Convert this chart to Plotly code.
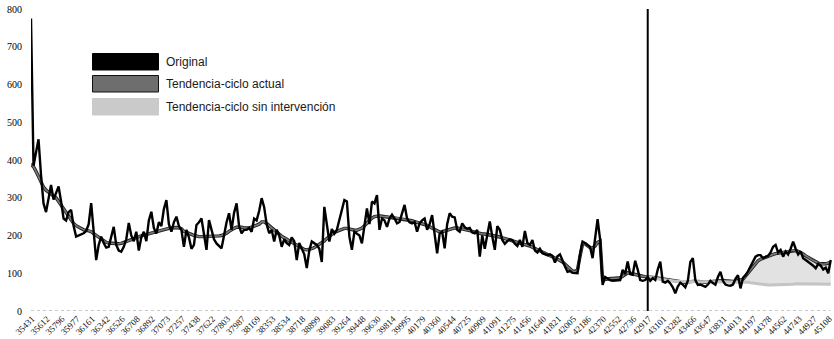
import plotly.graph_objects as go

# Monthly series starting Jan 1997 (index 0) to Aug 2023 (index 319)
original = [
    775, 385, 420, 455, 360, 285, 262, 300, 334, 295, 315, 330, 290, 245, 240, 262, 268, 225, 197, 200,
    205, 206, 212, 230, 286, 220, 135, 175, 197, 180, 168, 170, 200, 223, 175, 160, 157, 170, 190, 233,
    200, 185, 210, 160, 195, 210, 185, 240, 263, 220, 205, 235, 225, 270, 294, 230, 210, 235, 250, 225,
    215, 170, 215, 195, 165, 175, 228, 235, 245, 200, 162, 241, 215, 190, 179, 172, 166, 200, 235, 259,
    215, 260, 285, 225, 206, 215, 215, 220, 210, 245, 240, 265, 299, 275, 230, 206, 215, 184, 215, 200,
    170, 190, 180, 175, 195, 185, 135, 180, 165, 150, 114, 160, 184, 180, 175, 165, 130, 276, 230, 184,
    217, 205, 215, 240, 263, 294, 290, 197, 162, 210, 205, 200, 179, 230, 272, 230, 290, 285, 307, 215,
    245, 240, 223, 245, 255, 245, 232, 236, 260, 281, 245, 235, 232, 236, 210, 232, 240, 245, 215, 230,
    254, 210, 153, 205, 210, 166, 230, 259, 250, 248, 215, 210, 232, 222, 218, 220, 208, 206, 215, 144,
    200, 165, 200, 237, 197, 162, 225, 215, 188, 178, 185, 190, 188, 178, 172, 188, 170, 212, 180, 175,
    188, 160, 155, 165, 153, 150, 148, 150, 146, 128, 145, 150, 132, 118, 104, 106, 101, 100, 100, 150,
    184, 180, 175, 170, 140, 185, 243, 190, 69, 90, 85, 82, 80, 80, 80, 82, 109, 98, 131, 98,
    96, 133, 110, 82, 80, 82, 90, 80, 87, 82, 110, 131, 78, 75, 80, 73, 63, 47, 65, 75,
    70, 63, 80, 130, 140, 82, 69, 70, 67, 64, 70, 80, 74, 70, 90, 104, 80, 70, 68, 67,
    70, 85, 95, 60, 88, 95, 105, 117, 130, 144, 148, 148, 140, 142, 146, 155, 170, 175, 155, 162,
    144, 158, 150, 165, 184, 165, 150, 158, 140, 135, 131, 125, 120, 113, 125, 120, 110, 115, 100, 135,
]

trend = [
    390, 382, 370, 355, 340, 328, 320, 314, 310, 305, 300, 290, 280, 270, 260, 250, 240, 232, 226, 222,
    218, 215, 214, 213, 210, 205, 200, 195, 190, 185, 182, 180, 179, 178, 178, 178, 179, 181, 183, 186,
    189, 192, 195, 197, 199, 201, 203, 205, 207, 209, 211, 213, 214, 216, 218, 219, 220, 221, 221, 220,
    218, 211, 209, 206, 203, 200, 198, 197, 197, 197, 197, 197, 197, 197, 198, 199, 200, 202, 206, 211,
    216, 219, 222, 223, 222, 220, 219, 220, 222, 224, 226, 230, 236, 236, 232, 226, 220, 213, 207, 202,
    198, 194, 190, 186, 182, 178, 174, 170, 166, 163, 162, 163, 165, 168, 172, 176, 181, 186, 192, 198,
    204, 208, 211, 214, 217, 219, 219, 217, 215, 214, 214, 216, 220, 226, 233, 240, 246, 250, 252, 252,
    251, 250, 249, 248, 248, 248, 247, 246, 245, 244, 243, 241, 239, 237, 235, 234, 232, 230, 227, 223,
    219, 215, 211, 209, 210, 212, 215, 218, 219, 220, 220, 219, 218, 217, 215, 213, 211, 209, 207, 205,
    204, 204, 203, 202, 200, 198, 197, 196, 194, 192, 190, 188, 186, 184, 183, 182, 180, 178, 175, 172,
    169, 166, 162, 159, 155, 152, 149, 147, 144, 141, 138, 134, 130, 124, 117, 110, 106, 104, 110, 145,
    178, 178, 172, 168, 167, 172, 182, 185, 82, 84, 85, 86, 86, 87, 87, 88, 92, 98, 101, 100,
    98, 97, 95, 93, 92, 91, 91, 90, 89, 88, 87, 86, 85, 84, 83, 82, 80, 78, 77, 76,
    76, 76, 77, 78, 79, 79, 78, 77, 76, 76, 77, 78, 79, 80, 81, 82, 81, 80, 79, 78,
    78, 79, 80, 81, 84, 92, 100, 110, 119, 127, 133, 137, 140, 143, 146, 148, 150, 152, 153, 154,
    155, 157, 159, 160, 161, 160, 158, 155, 151, 146, 142, 138, 134, 130, 127, 125, 124, 125, 127, 129,
]

# Counterfactual trend (no intervention), from the intervention month onward
intervention_index = 246
counterfactual = [
    91, 90, 88, 86, 85, 84, 83, 82, 81, 80, 79, 79, 78, 78, 78, 77, 77, 77, 77, 77,
    77, 77, 77, 77, 77, 77, 77, 77, 78, 78, 78, 78, 78, 78, 78, 78, 78, 78, 77, 77,
    76, 75, 74, 73, 72, 71, 70, 70, 69, 69, 69, 69, 69, 69, 69, 70, 70, 71, 71, 72,
    72, 72, 72, 72, 72, 71, 71, 71, 71, 71, 71, 71, 71, 71,
]

tick_labels = [
    "35431", "35612", "35796", "35977", "36161", "36342", "36526", "36708", "36892", "37073",
    "37257", "37438", "37622", "37803", "37987", "38169", "38353", "38534", "38718", "38899",
    "39083", "39264", "39448", "39630", "39814", "39995", "40179", "40360", "40544", "40725",
    "40909", "41091", "41275", "41456", "41640", "41821", "42005", "42186", "42370", "42552",
    "42736", "42917", "43101", "43282", "43466", "43647", "43831", "44013", "44197", "44378",
    "44562", "44743", "44927", "45108",
]

legend_names = ["Original", "Tendencia-ciclo actual", "Tendencia-ciclo sin intervención"]

n = len(original)
x_all = list(range(n))
x_cf = list(range(intervention_index, intervention_index + len(counterfactual)))
trend_cf = trend[intervention_index:intervention_index + len(counterfactual)]

fig = go.Figure()

# shaded area between counterfactual and actual trend
fig.add_trace(go.Scatter(x=x_cf, y=counterfactual, mode="lines",
                         line=dict(width=0, color="rgba(0,0,0,0)"), showlegend=False, hoverinfo="skip"))
fig.add_trace(go.Scatter(x=x_cf, y=trend_cf, mode="lines", fill="tonexty",
                         fillcolor="#e2e2e2", line=dict(width=0, color="rgba(0,0,0,0)"),
                         showlegend=False, hoverinfo="skip"))
# trend: dark outline + grey core
fig.add_trace(go.Scatter(x=x_all, y=trend, mode="lines",
                         line=dict(color="#222222", width=3.4), showlegend=False))
fig.add_trace(go.Scatter(x=x_all, y=trend, mode="lines",
                         line=dict(color="#7a7a7a", width=1.6), showlegend=False))
# counterfactual
fig.add_trace(go.Scatter(x=x_cf, y=counterfactual, mode="lines",
                         line=dict(color="#c4c4c4", width=3), showlegend=False))
# original
fig.add_trace(go.Scatter(x=x_all, y=original, mode="lines",
                         line=dict(color="#000000", width=2.4), showlegend=False))

shapes = [
    # dotted baseline
    dict(type="line", xref="x", yref="y", x0=0, x1=n - 1, y0=0, y1=0,
         line=dict(color="#b5b5b5", width=1.5, dash="dot"), layer="below"),
    # intervention line
    dict(type="line", xref="x", yref="paper", x0=intervention_index, x1=intervention_index,
         y0=0, y1=1, line=dict(color="#000000", width=2)),
]

# manual legend (pixel layout converted to paper coords)
L, T, W, H = 31, 9, 803, 302
def px(xp):
    return (xp - L) / W
def py(yp):
    return (T + H - yp) / H

sw_fill = ["#000000", "#6e6e6e", "#cacaca"]
sw_line = ["#000000", "#111111", "#cacaca"]
sw_top = [53.5, 75.5, 98.5]
annotations = []
for i, name in enumerate(legend_names):
    shapes.append(dict(type="rect", xref="paper", yref="paper",
                       x0=px(92.5), x1=px(158.5), y0=py(sw_top[i] + 16.5), y1=py(sw_top[i]),
                       fillcolor=sw_fill[i], line=dict(color=sw_line[i], width=1)))
    annotations.append(dict(xref="paper", yref="paper", x=px(164), y=py(sw_top[i] + 8.3),
                            text=name, showarrow=False, xanchor="left", yanchor="middle",
                            font=dict(family="Liberation Sans, Arial, sans-serif", size=12, color="#1a1a1a")))

fig.update_layout(
    width=834, height=339,
    margin=dict(l=L, r=0, t=T, b=339 - T - H, pad=0),
    paper_bgcolor="white", plot_bgcolor="white",
    shapes=shapes, annotations=annotations,
    showlegend=False,
    xaxis=dict(range=[0, 320.3], tickmode="array", tickvals=list(range(0, n, 6)),
               ticktext=tick_labels, tickangle=-45, showgrid=False, zeroline=False,
               showline=False, ticks="", automargin=False, ticklabeloverflow="allow",
               ticklabelshift=1, ticklabelstandoff=0,
               tickfont=dict(family="Liberation Serif, Times New Roman, serif", size=9, color="#111")),
    yaxis=dict(range=[0, 800], tickmode="array", tickvals=[0, 100, 200, 300, 400, 500, 600, 700, 800],
               showgrid=False, zeroline=False, showline=False, ticks="", automargin=False,
               ticklabelstandoff=8,
               tickfont=dict(family="Liberation Serif, Times New Roman, serif", size=10, color="#000")),
)

fig.write_html("out.html")
